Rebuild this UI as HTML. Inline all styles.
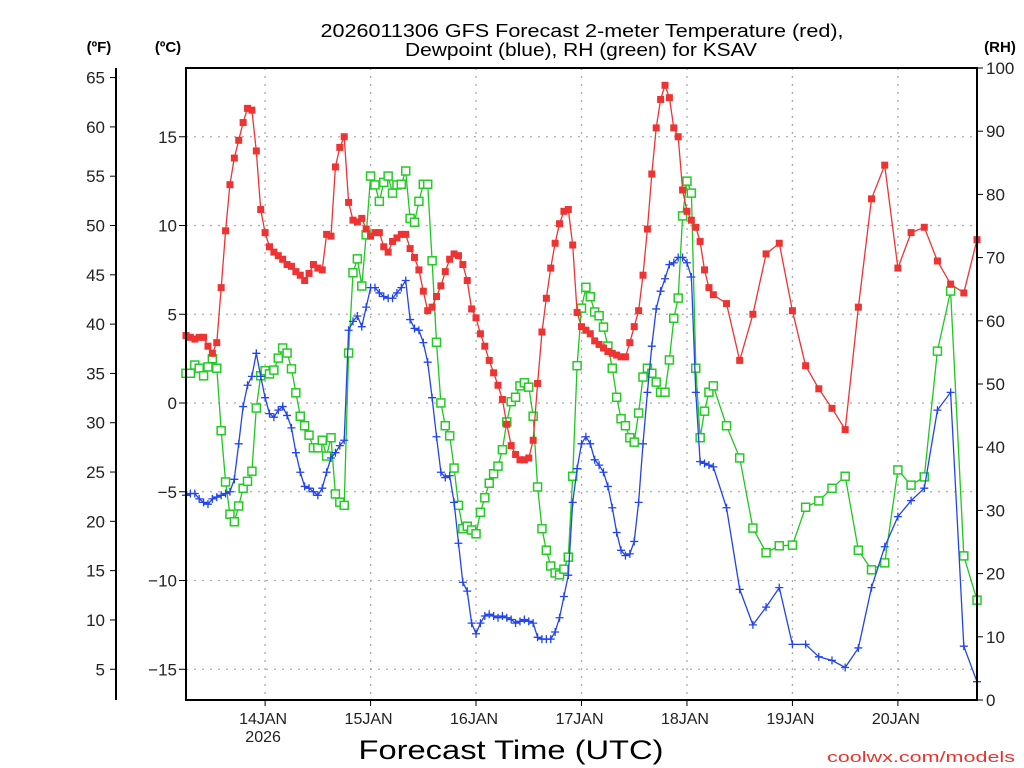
<!DOCTYPE html>
<html><head><meta charset="utf-8"><style>
html,body{margin:0;padding:0;background:#fff}
svg{display:block}
text{font-family:"Liberation Sans","DejaVu Sans",sans-serif}
</style></head><body>
<svg id="chart" width="1024" height="768" viewBox="0 0 1024 768" xmlns="http://www.w3.org/2000/svg">
<g id="grid"></g>
<g id="axes"></g>
<g id="series"></g>
<rect x="186" y="68" width="791" height="632" fill="none" stroke="#000" stroke-width="2"/>
<text x="582" y="37" text-anchor="middle" font-size="18" textLength="523" lengthAdjust="spacingAndGlyphs">2026011306 GFS Forecast 2-meter Temperature (red),</text>
<text x="581" y="56" text-anchor="middle" font-size="18" textLength="352" lengthAdjust="spacingAndGlyphs">Dewpoint (blue), RH (green) for KSAV</text>
<text x="99" y="52" text-anchor="middle" font-size="15" font-weight="bold">(ºF)</text>
<text x="168" y="52" text-anchor="middle" font-size="15" font-weight="bold">(ºC)</text>
<text x="1000" y="52" text-anchor="middle" font-size="15" font-weight="bold">(RH)</text>
<text x="511" y="759" text-anchor="middle" font-size="27" textLength="305" lengthAdjust="spacingAndGlyphs">Forecast Time (UTC)</text>
<text x="1015" y="762" text-anchor="end" font-size="15" fill="#e8332d" textLength="188" lengthAdjust="spacingAndGlyphs">coolwx.com/models</text>
</svg>
<script>
// forecast hours since 2026-01-13 06Z
const hours = [];
for (let h = 0; h <= 120; h++) hours.push(h);
for (let h = 123; h <= 180; h += 3) hours.push(h);
const tempC = [3.8,3.7,3.6,3.7,3.7,3.2,2.8,3.4,6.5,9.7,12.3,13.8,14.8,15.8,16.6,16.5,14.2,10.9,9.6,8.8,8.5,8.3,8.1,7.8,7.7,7.4,7.2,6.9,7.3,7.8,7.6,7.5,9.5,9.4,13.3,14.4,15.0,11.3,10.3,10.2,10.4,9.8,9.4,9.6,9.6,8.8,8.5,9.1,9.3,9.5,9.5,8.7,8.2,7.5,6.3,5.2,5.4,6.0,6.6,7.4,8.1,8.4,8.3,7.8,6.9,5.3,4.8,3.9,3.2,2.4,1.7,1.0,0.2,-1.2,-2.4,-2.9,-3.2,-3.2,-3.1,-2.1,1.1,4.0,5.9,7.6,9.0,10.1,10.8,10.9,8.9,5.1,4.3,4.1,3.9,3.5,3.3,3.1,2.9,2.8,2.7,2.6,2.6,3.4,4.3,5.2,7.2,9.8,12.9,15.5,17.1,17.9,17.2,15.5,15.0,12.0,10.8,10.3,9.9,9.1,7.5,6.5,6.1,
5.6,2.4,5.0,8.4,9.0,5.2,2.1,0.8,-0.3,-1.5,5.4,11.5,13.4,7.6,9.6,9.9,8.0,6.7,6.2,9.2];
const dewC = [-5.2,-5.1,-5.1,-5.4,-5.6,-5.7,-5.4,-5.3,-5.2,-5.1,-5.0,-4.3,-2.3,-0.2,1.0,1.5,2.8,1.5,0.3,-0.6,-0.8,-0.4,-0.2,-0.7,-1.4,-2.8,-3.9,-4.7,-4.8,-5.0,-5.2,-4.8,-3.9,-3.1,-2.8,-2.4,-2.1,4.1,4.6,4.9,4.3,5.4,6.5,6.5,6.2,6.0,5.9,5.9,6.2,6.5,6.9,4.7,4.2,4.1,3.4,2.3,0.3,-1.9,-3.9,-4.2,-4.1,-5.6,-7.9,-10.1,-10.6,-12.4,-13.0,-12.4,-12.0,-11.9,-12.0,-12.1,-12.0,-12.1,-12.2,-12.4,-12.3,-12.2,-12.3,-12.4,-13.2,-13.3,-13.3,-13.3,-12.9,-12.1,-10.9,-9.7,-5.6,-3.7,-2.3,-1.9,-2.3,-3.2,-3.5,-3.9,-4.7,-5.9,-7.3,-8.3,-8.6,-8.5,-7.8,-5.6,-2.3,0.6,3.2,5.3,6.3,7.0,7.8,7.9,8.2,8.2,7.9,7.1,0.6,-3.3,-3.4,-3.5,-3.6,
-5.9,-10.5,-12.5,-11.5,-10.4,-13.6,-13.6,-14.3,-14.5,-14.9,-13.8,-10.4,-8.1,-6.4,-5.5,-4.8,-0.4,0.6,-13.7,-15.7];
const rhPct = [51.7,51.7,53.0,52.5,51.3,52.7,54.0,52.5,42.6,34.5,29.4,28.2,30.7,33.5,34.6,36.2,46.2,51.3,52.1,51.6,52.2,54.1,55.7,54.9,52.4,48.6,44.9,43.4,41.9,39.9,39.9,41.1,38.6,41.5,32.6,31.3,30.8,54.9,67.6,69.8,65.5,73.6,82.9,81.5,78.9,81.9,82.9,80.2,81.5,81.6,83.7,76.2,75.6,78.9,81.6,81.6,69.5,56.6,47.0,43.4,41.8,36.7,30.8,27.1,27.5,26.9,26.3,29.7,32.0,34.3,35.8,37.0,39.6,44.0,47.2,47.9,49.7,50.2,49.5,44.9,33.7,27.1,23.7,21.2,20.1,19.8,20.7,22.6,35.4,52.9,62.0,65.3,63.8,61.4,60.8,59.0,56.0,52.5,47.9,44.5,43.4,41.5,40.8,45.4,51.1,52.5,51.7,50.3,48.7,48.7,53.8,60.4,63.6,76.6,82.1,80.2,52.5,41.5,45.7,48.7,49.7,
43.4,38.3,27.2,23.3,24.4,24.5,30.5,31.5,33.5,35.4,23.7,20.6,21.7,36.4,34.0,35.3,55.2,64.7,22.8,15.8];
const dayLabels = ["14JAN","15JAN","16JAN","17JAN","18JAN","19JAN","20JAN"];
const dayHours = [18,42,66,90,114,138,162];
const cTicks = [15,10,5,0,-5,-10,-15];
const fTicks = [65,60,55,50,45,40,35,30,25,20,15,10,5];
const rhTicks = [100,90,80,70,60,50,40,30,20,10,0];

const NS = "http://www.w3.org/2000/svg";
const L = 186, R = 977, T = 68, B = 700;
const xOf = h => L + (h / 180) * (R - L);
const yC = c => 403 - c * 17.75;
const yF = f => yC((f - 32) / 1.8);
const yRH = r => B - r * (B - T) / 100;
function mk(tag, attrs, parent) {
  const e = document.createElementNS(NS, tag);
  for (const k in attrs) e.setAttribute(k, attrs[k]);
  parent.appendChild(e);
  return e;
}
const grid = document.getElementById('grid');
const axes = document.getElementById('axes');
const series = document.getElementById('series');

cTicks.forEach(c => {
  const y = yC(c);
  const g = mk('line', {x1: L, x2: R, y1: y, y2: y, stroke: '#aaa', 'stroke-width': 1.3, 'stroke-dasharray': '2,6'}, grid);
  
  
  const t = mk('line', {x1: L - 7, x2: L, y1: y, y2: y, stroke: '#000', 'stroke-width': 1}, axes);
  
  
  const lb = mk('text', {x: L - 9, y: y + 6, 'text-anchor': 'end', 'font-size': 17, fill: '#222'}, axes);
  lb.textContent = c < 0 ? '\u2212' + Math.abs(c) : String(c);
  
  
});
dayHours.forEach((h, i) => {
  const x = xOf(h);
  const g = mk('line', {x1: x, x2: x, y1: T, y2: B, stroke: '#aaa', 'stroke-width': 1.3, 'stroke-dasharray': '2,6'}, grid);
  
  
  const t = mk('line', {x1: x, x2: x, y1: B, y2: B + 6, stroke: '#000', 'stroke-width': 1}, axes);
  
  
  const lb = mk('text', {x: x - 2, y: B + 24, 'text-anchor': 'middle', 'font-size': 16, fill: '#222'}, axes);
  lb.textContent = dayLabels[i];
  
  
});
const yr = mk('text', {x: xOf(18) - 2, y: B + 42, 'text-anchor': 'middle', 'font-size': 16, fill: '#222'}, axes);
yr.textContent = '2026';



const fAxis = mk('line', {x1: 116, x2: 116, y1: T, y2: B, stroke: '#000', 'stroke-width': 2}, axes);


fTicks.forEach(f => {
  const y = yF(f);
  const t = mk('line', {x1: 110, x2: 116, y1: y, y2: y, stroke: '#000', 'stroke-width': 1}, axes);
  
  
  const lb = mk('text', {x: 105, y: y + 6, 'text-anchor': 'end', 'font-size': 17, fill: '#222'}, axes);
  lb.textContent = String(f);
  
  
});
rhTicks.forEach(r => {
  const y = yRH(r);
  const t = mk('line', {x1: R, x2: R + 6, y1: y, y2: y, stroke: '#000', 'stroke-width': 1}, axes);
  
  
  const lb = mk('text', {x: R + 9, y: y + 6, 'text-anchor': 'start', 'font-size': 17, fill: '#222'}, axes);
  lb.textContent = String(r);
  
  
});

function line(vals, yFn, color, name) {
  const pts = vals.map((v, i) => xOf(hours[i]).toFixed(1) + ',' + yFn(v).toFixed(1)).join(' ');
  const pl = mk('polyline', {points: pts, fill: 'none', stroke: color, 'stroke-width': 1.3}, series);
  
  
}
// RH
line(rhPct, yRH, '#1ec81e', 'rh-line');
rhPct.forEach((v, i) => {
  const m = mk('rect', {x: xOf(hours[i]) - 4, y: yRH(v) - 4, width: 8, height: 8, fill: '#fff', stroke: '#22cc22', 'stroke-width': 1.5}, series);
  
  
});
// Dewpoint
line(dewC, yC, '#2244ee', 'dewpoint-line');
dewC.forEach((v, i) => {
  const x = xOf(hours[i]), y = yC(v);
  const m = mk('path', {d: `M${x-4},${y}H${x+4}M${x},${y-4}V${y+4}`, stroke: '#2244ee', 'stroke-width': 1.3, fill: 'none'}, series);
  
  
});
// Temperature
line(tempC, yC, '#ee3333', 'temperature-line');
tempC.forEach((v, i) => {
  const m = mk('rect', {x: xOf(hours[i]) - 3.5, y: yC(v) - 3.5, width: 7, height: 7, fill: '#ee3333'}, series);
  
  
});
</script>
</body></html>
